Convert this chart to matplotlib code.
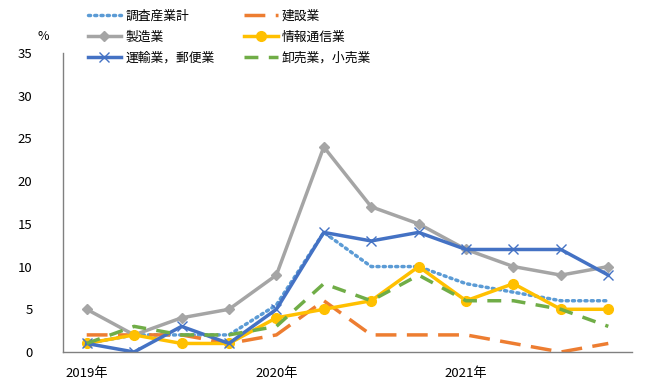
import matplotlib.pyplot as plt

plt.rcParams['font.family'] = ['Noto Sans CJK JP', 'DejaVu Sans']

# 四半期 (2019年1-3月 ~ 2021年10-12月)
quarters = list(range(12))
tick_pos = [0, 4, 8]
tick_labels = ['2019年', '2020年', '2021年']

chousa = [1, 2, 2, 2, 5.5, 14, 10, 10, 8, 7, 6, 6]
kensetsu = [2, 2, 2, 1, 2, 6, 2, 2, 2, 1, 0, 1]
seizo = [5, 2, 4, 5, 9, 24, 17, 15, 12, 10, 9, 10]
joho = [1, 2, 1, 1, 4, 5, 6, 10, 6, 8, 5, 5]
unyu = [1, 0, 3, 1, 5, 14, 13, 14, 12, 12, 12, 9]
oroshi = [1, 3, 2, 2, 3, 8, 6, 9, 6, 6, 5, 3]

fig = plt.figure(figsize=(6.49, 3.82), dpi=100)
ax = fig.add_axes([63 / 649, 30 / 382, 569 / 649, 299 / 382])

lw = 2.5
h1, = ax.plot(quarters, chousa, color='#5B9BD5', lw=lw, linestyle=(0, (0.6, 1.2)),
              dash_capstyle='round', label='調査産業計')
h2, = ax.plot(quarters, kensetsu, color='#ED7D31', lw=lw, linestyle=(0, (6, 3)),
              label='建設業')
h3, = ax.plot(quarters, seizo, color='#A5A5A5', lw=lw, marker='D', markersize=5,
              label='製造業')
h4, = ax.plot(quarters, joho, color='#FFC000', lw=lw, marker='o', markersize=7,
              label='情報通信業')
h5, = ax.plot(quarters, unyu, color='#4472C4', lw=lw, marker='x', markersize=7,
              markeredgewidth=1, label='運輸業，郵便業')
h6, = ax.plot(quarters, oroshi, color='#70AD47', lw=lw, linestyle=(0, (4, 3)),
              label='卸売業，小売業')

ax.set_xlim(-0.5, 11.5)
ax.set_ylim(0, 35)
ax.set_yticks(range(0, 36, 5))
ax.set_xticks(tick_pos)
ax.set_xticklabels(tick_labels)
ax.tick_params(axis='both', length=0, labelsize=9.5)
ax.tick_params(axis='x', pad=11)
ax.tick_params(axis='y', pad=22)
for s in ['top', 'right']:
    ax.spines[s].set_visible(False)
for s in ['left', 'bottom']:
    ax.spines[s].set_color('#808080')
    ax.spines[s].set_linewidth(1)

fig.text(43 / 649, 1 - 37 / 382, '%', fontsize=9, ha='center', va='center')

fig.legend([h1, h3, h5, h2, h4, h6],
           [h.get_label() for h in [h1, h3, h5, h2, h4, h6]],
           ncol=2, loc='upper left', bbox_to_anchor=(76 / 649, 1.005),
           frameon=False, fontsize=9.2, handlelength=2.65, handletextpad=0.3,
           columnspacing=2.3, labelspacing=0.62)

plt.savefig('out.png', dpi=100)
